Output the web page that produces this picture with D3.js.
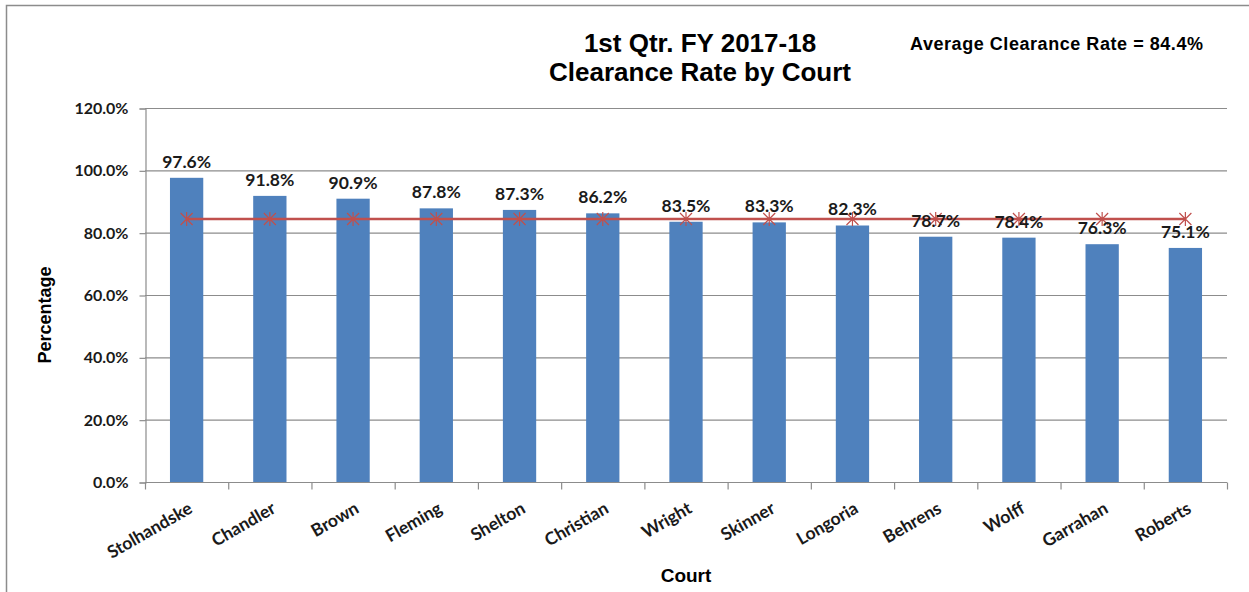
<!DOCTYPE html>
<html>
<head>
<meta charset="utf-8">
<script src="https://cdn.jsdelivr.net/npm/d3@7"></script>
<style>
  body { margin: 0; background: #fff; }
  svg { display: block; }
  .tick-lbl { font-family: Lato, "Open Sans", sans-serif; font-weight: bold; font-size: 16px; fill: #1a1a1a; }
</style>
</head>
<body>
<div id="chart"></div>
<script>
// chart data
var courts = ["Stolhandske", "Chandler", "Brown", "Fleming", "Shelton", "Christian",
  "Wright", "Skinner", "Longoria", "Behrens", "Wolff", "Garrahan", "Roberts"];
var rates = [97.6, 91.8, 90.9, 87.8, 87.3, 86.2, 83.5, 83.3, 82.3, 78.7, 78.4, 76.3, 75.1];
var average = 84.4;
var yTicks = [0, 20, 40, 60, 80, 100, 120];

var W = 1249, H = 592;
var plotL = 145, plotR = 1227, plotT = 108, plotB = 482;

var svg = d3.select("#chart").append("svg")
    .attr("width", W)
    .attr("height", H);

// outer border
svg.append("rect")
    .attr("x", 6.5).attr("y", 5.5)
    .attr("width", W + 20).attr("height", H + 20)
    .attr("fill", "#fff")
    .attr("stroke", "#8c8c8c")
    .attr("stroke-width", 1.5);

var x = d3.scaleBand()
    .domain(courts)
    .range([plotL, plotR])
    .paddingInner(0.6)
    .paddingOuter(0.3);

var xb = d3.scaleBand().domain(courts).range([plotL, plotR]);

var y = d3.scaleLinear()
    .domain([0, 120])
    .range([plotB, plotT]);

// gridlines
svg.append("g").selectAll("line")
    .data(yTicks.filter(function(d) { return d > 0; }))
  .enter().append("line")
    .attr("x1", plotL).attr("x2", plotR)
    .attr("y1", function(d) { return y(d) + 0.5; })
    .attr("y2", function(d) { return y(d) + 0.5; })
    .attr("stroke", "#8c8c8c")
    .attr("stroke-width", 1.2);

// y axis
var yAxis = d3.axisLeft(y)
    .tickValues(yTicks)
    .tickSize(6)
    .tickPadding(11)
    .tickFormat(function(d) { return d.toFixed(1) + "%"; });

var gy = svg.append("g")
    .attr("transform", "translate(" + (plotL + 0.5) + ",0.5)")
    .call(yAxis);
gy.select(".domain").attr("stroke", "#8c8c8c").attr("stroke-width", 1.2);
gy.selectAll(".tick line").attr("stroke", "#8c8c8c").attr("stroke-width", 1.2);
gy.selectAll(".tick text").attr("class", "tick-lbl").attr("fill", null);

// bars
svg.selectAll(".bar")
    .data(rates)
  .enter().append("rect")
    .attr("class", "bar")
    .attr("x", function(d, i) { return x(courts[i]); })
    .attr("width", x.bandwidth())
    .attr("y", function(d) { return y(d); })
    .attr("height", function(d) { return y(0) - y(d); })
    .attr("fill", "#4f81bd");

// x axis
var gx = svg.append("g")
    .attr("transform", "translate(0," + (plotB + 0.5) + ")");
gx.append("line")
    .attr("x1", plotL).attr("x2", plotR)
    .attr("stroke", "#8c8c8c").attr("stroke-width", 1.2);
var bounds = courts.map(function(c) { return xb(c); }).concat([plotR]);
gx.selectAll(".tk")
    .data(bounds)
  .enter().append("line")
    .attr("x1", function(d) { return d + 0.5; })
    .attr("x2", function(d) { return d + 0.5; })
    .attr("y1", 0).attr("y2", 7)
    .attr("stroke", "#8c8c8c").attr("stroke-width", 1.2);

gx.selectAll(".xl")
    .data(courts)
  .enter().append("text")
    .attr("class", "tick-lbl")
    .style("font-size", "17.5px")
    .attr("text-anchor", "end")
    .attr("transform", function(d) {
      return "translate(" + (xb(d) + xb.bandwidth() / 2 + 4) + ",24) rotate(-30)";
    })
    .attr("dy", "0.35em")
    .text(function(d) { return d; });

// average line
var avgY = y(average);
var cx = function(c) { return x(c) + x.bandwidth() / 2; };
svg.append("line")
    .attr("x1", cx(courts[0])).attr("x2", cx(courts[courts.length - 1]))
    .attr("y1", avgY).attr("y2", avgY)
    .attr("stroke", "#c0504d")
    .attr("stroke-width", 2.5);

var star = svg.append("g").selectAll("g")
    .data(courts)
  .enter().append("g")
    .attr("transform", function(d) { return "translate(" + cx(d) + "," + avgY + ")"; });
star.append("path")
    .attr("d", "M-6,-6L6,6M-6,6L6,-6M0,-7L0,7")
    .attr("stroke", "#c0504d")
    .attr("stroke-width", 1.2)
    .attr("fill", "none");

// data labels
svg.selectAll(".lbl")
    .data(rates)
  .enter().append("text")
    .attr("class", "lbl")
    .attr("x", function(d, i) { return cx(courts[i]); })
    .attr("y", function(d) { return y(d) - 10; })
    .attr("text-anchor", "middle")
    .style("font-family", "Lato, 'Open Sans', sans-serif")
    .style("font-weight", "bold")
    .style("font-size", "17.5px")
    .attr("fill", "#1a1a1a")
    .text(function(d) { return d.toFixed(1) + "%"; });

// titles
var title = svg.append("text")
    .attr("text-anchor", "middle")
    .style("font-family", "'Liberation Sans Narrow', 'Liberation Sans', Arial, sans-serif")
    .style("font-weight", "bold")
    .style("font-size", "26px")
    .attr("fill", "#000");
title.append("tspan").attr("x", 700).attr("y", 52).text("1st Qtr. FY 2017-18");
title.append("tspan").attr("x", 700).attr("y", 81).text("Clearance Rate by Court");

svg.append("text")
    .attr("x", 910).attr("y", 50)
    .style("font-family", "'Liberation Sans Narrow', 'Liberation Sans', Arial, sans-serif")
    .style("font-weight", "bold")
    .style("font-size", "18px")
    .attr("textLength", 293)
    .attr("fill", "#000")
    .text("Average Clearance Rate = 84.4%");

svg.append("text")
    .attr("transform", "translate(51,315) rotate(-90)")
    .attr("text-anchor", "middle")
    .style("font-family", "'Liberation Sans', Arial, sans-serif")
    .style("font-weight", "bold")
    .style("font-size", "18px")
    .attr("fill", "#000")
    .text("Percentage");

svg.append("text")
    .attr("x", 686).attr("y", 582)
    .attr("text-anchor", "middle")
    .style("font-family", "'Liberation Sans', Arial, sans-serif")
    .style("font-weight", "bold")
    .style("font-size", "19px")
    .attr("fill", "#000")
    .text("Court");
</script>
</body>
</html>
